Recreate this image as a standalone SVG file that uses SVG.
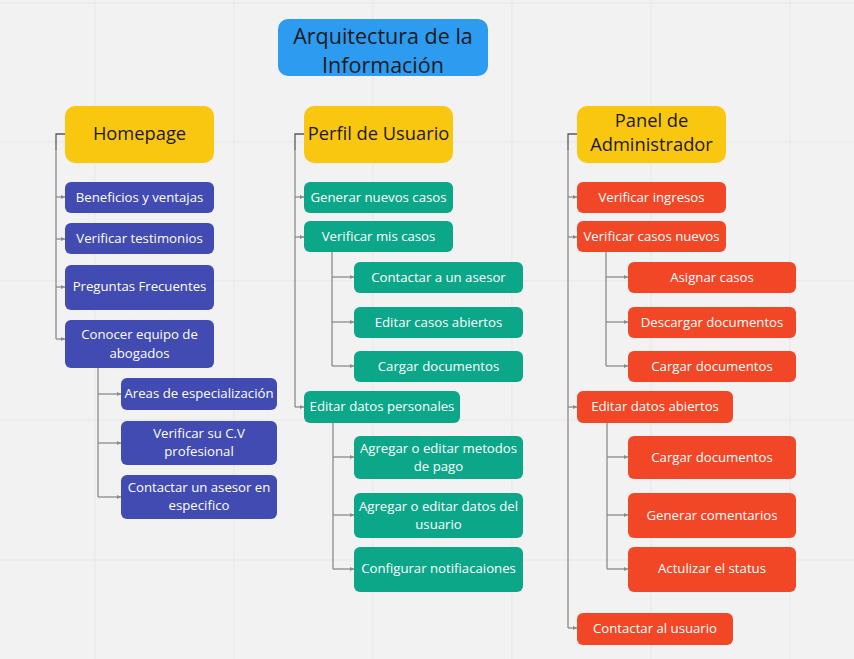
<svg xmlns="http://www.w3.org/2000/svg" width="854" height="659" viewBox="0 0 854 659">
<defs>
<style>
.bg{fill:#f2f2f2}
.grid{stroke:#e7e7e7;stroke-width:1}
.hd{fill:#fac710}
.ttl{fill:#2d9bf0}
.hp{fill:#414bb2}
.pu{fill:#0ca789}
.pa{fill:#f24726}
text{font-family:"Open Sans","Noto Sans","Liberation Sans",sans-serif;text-anchor:middle}
.t0{font-size:21.5px;fill:#1a1a1a}
.t1{font-size:18.3px;fill:#1a1a1a}
.t2{font-size:13.2px;fill:#ffffff}
.cn{fill:none;stroke:#8a8a8a;stroke-width:1.3}
.cnd{fill:none;stroke:#5a5a5a;stroke-width:1.3}
</style>
<marker id="ar" viewBox="0 0 6 6" refX="6" refY="3" markerWidth="4" markerHeight="4" orient="auto" markerUnits="userSpaceOnUse">
<path d="M0,0 L6,3 L0,6 z" fill="#8a8a8a"/>
</marker>
</defs>
<rect class="bg" x="0" y="0" width="854" height="659"/>
<g id="grid">
<line class="grid" x1="95" y1="0" x2="95" y2="659"/>
<line class="grid" x1="234" y1="0" x2="234" y2="659"/>
<line class="grid" x1="373" y1="0" x2="373" y2="659"/>
<line class="grid" x1="512" y1="0" x2="512" y2="659"/>
<line class="grid" x1="651" y1="0" x2="651" y2="659"/>
<line class="grid" x1="790" y1="0" x2="790" y2="659"/>
<line class="grid" x1="0" y1="3" x2="854" y2="3"/>
<line class="grid" x1="0" y1="142" x2="854" y2="142"/>
<line class="grid" x1="0" y1="281" x2="854" y2="281"/>
<line class="grid" x1="0" y1="420" x2="854" y2="420"/>
<line class="grid" x1="0" y1="560" x2="854" y2="560"/>
</g>
<g id="connectors">
<path class="cnd" d="M65,134 H56 V150"/>
<path class="cn" d="M56,150 V339"/>
<path class="cn" d="M56,197 H65" marker-end="url(#ar)"/>
<path class="cn" d="M56,239 H65" marker-end="url(#ar)"/>
<path class="cn" d="M56,287 H65" marker-end="url(#ar)"/>
<path class="cn" d="M56,339 H65" marker-end="url(#ar)"/>
<path class="cn" d="M98,368 V497"/>
<path class="cn" d="M98,394 H121" marker-end="url(#ar)"/>
<path class="cn" d="M98,443 H121" marker-end="url(#ar)"/>
<path class="cn" d="M98,497 H121" marker-end="url(#ar)"/>

<path class="cnd" d="M304,134 H295 V150"/>
<path class="cn" d="M295,150 V407"/>
<path class="cn" d="M295,197 H304" marker-end="url(#ar)"/>
<path class="cn" d="M295,237 H304" marker-end="url(#ar)"/>
<path class="cn" d="M295,407 H304" marker-end="url(#ar)"/>
<path class="cn" d="M332,252 V366"/>
<path class="cn" d="M332,277 H354" marker-end="url(#ar)"/>
<path class="cn" d="M332,322 H354" marker-end="url(#ar)"/>
<path class="cn" d="M332,366 H354" marker-end="url(#ar)"/>
<path class="cn" d="M333,423 V569"/>
<path class="cn" d="M333,457 H354" marker-end="url(#ar)"/>
<path class="cn" d="M333,515 H354" marker-end="url(#ar)"/>
<path class="cn" d="M333,569 H354" marker-end="url(#ar)"/>

<path class="cnd" d="M577,134 H568 V150"/>
<path class="cn" d="M568,150 V628"/>
<path class="cn" d="M568,197 H577" marker-end="url(#ar)"/>
<path class="cn" d="M568,237 H577" marker-end="url(#ar)"/>
<path class="cn" d="M568,407 H577" marker-end="url(#ar)"/>
<path class="cn" d="M568,628 H577" marker-end="url(#ar)"/>
<path class="cn" d="M606,252 V366"/>
<path class="cn" d="M606,277 H628" marker-end="url(#ar)"/>
<path class="cn" d="M606,322 H628" marker-end="url(#ar)"/>
<path class="cn" d="M606,366 H628" marker-end="url(#ar)"/>
<path class="cn" d="M607,423 V569"/>
<path class="cn" d="M607,457 H628" marker-end="url(#ar)"/>
<path class="cn" d="M607,515 H628" marker-end="url(#ar)"/>
<path class="cn" d="M607,569 H628" marker-end="url(#ar)"/>
</g>

<g id="title">
<rect class="ttl" x="278" y="19" width="210" height="57" rx="10"/>
<text class="t0" x="383" y="44">Arquitectura de la</text>
<text class="t0" x="383" y="73">Información</text>
</g>

<g id="homepage"><rect class="hd" x="65" y="106" width="149" height="57" rx="10"/><text class="t1" x="139.5" y="140">Homepage</text></g>
<g id="beneficios"><rect class="hp" x="65" y="182" width="149" height="31" rx="6"/><text class="t2" x="139.5" y="202">Beneficios y ventajas</text></g>
<g id="testimonios"><rect class="hp" x="65" y="223" width="149" height="31" rx="6"/><text class="t2" x="139.5" y="243">Verificar testimonios</text></g>
<g id="preguntas"><rect class="hp" x="65" y="265" width="149" height="45" rx="6"/><text class="t2" x="139.5" y="291">Preguntas Frecuentes</text></g>
<g id="conocer"><rect class="hp" x="65" y="320" width="149" height="48" rx="6"/><text class="t2" x="139.5" y="339">Conocer equipo de</text><text class="t2" x="139.5" y="358">abogados</text></g>
<g id="areas"><rect class="hp" x="121" y="378" width="156" height="32" rx="6"/><text class="t2" x="199" y="398">Areas de especialización</text></g>
<g id="cv"><rect class="hp" x="121" y="421" width="156" height="44" rx="6"/><text class="t2" x="199" y="438">Verificar su C.V</text><text class="t2" x="199" y="456">profesional</text></g>
<g id="contactar-asesor"><rect class="hp" x="121" y="475" width="156" height="44" rx="6"/><text class="t2" x="199" y="492">Contactar un asesor en</text><text class="t2" x="199" y="510">especifico</text></g>

<g id="perfil"><rect class="hd" x="304" y="106" width="149" height="57" rx="10"/><text class="t1" x="378.5" y="140">Perfil de Usuario</text></g>
<g id="generar"><rect class="pu" x="304" y="182" width="149" height="31" rx="6"/><text class="t2" x="378.5" y="202">Generar nuevos casos</text></g>
<g id="verificar-mis"><rect class="pu" x="304" y="221" width="149" height="31" rx="6"/><text class="t2" x="378.5" y="241">Verificar mis casos</text></g>
<g id="contactar-a"><rect class="pu" x="354" y="262" width="169" height="31" rx="6"/><text class="t2" x="438.5" y="282">Contactar a un asesor</text></g>
<g id="editar-casos"><rect class="pu" x="354" y="307" width="169" height="31" rx="6"/><text class="t2" x="438.5" y="327">Editar casos abiertos</text></g>
<g id="cargar-pu"><rect class="pu" x="354" y="351" width="169" height="31" rx="6"/><text class="t2" x="438.5" y="371">Cargar documentos</text></g>
<g id="editar-datos"><rect class="pu" x="304" y="391" width="156" height="32" rx="6"/><text class="t2" x="382" y="411">Editar datos personales</text></g>
<g id="metodos"><rect class="pu" x="354" y="436" width="169" height="43" rx="6"/><text class="t2" x="438.5" y="453">Agregar o editar metodos</text><text class="t2" x="438.5" y="471">de pago</text></g>
<g id="datos-usuario"><rect class="pu" x="354" y="493" width="169" height="45" rx="6"/><text class="t2" x="438.5" y="511">Agregar o editar datos del</text><text class="t2" x="438.5" y="529">usuario</text></g>
<g id="notificaciones"><rect class="pu" x="354" y="547" width="169" height="45" rx="6"/><text class="t2" x="438.5" y="573">Configurar notifiacaiones</text></g>

<g id="panel"><rect class="hd" x="577" y="106" width="149" height="57" rx="10"/><text class="t1" x="651.5" y="127">Panel de</text><text class="t1" x="651.5" y="151">Administrador</text></g>
<g id="ingresos"><rect class="pa" x="577" y="182" width="149" height="31" rx="6"/><text class="t2" x="651.5" y="202">Verificar ingresos</text></g>
<g id="casos-nuevos"><rect class="pa" x="577" y="221" width="149" height="31" rx="6"/><text class="t2" x="651.5" y="241">Verificar casos nuevos</text></g>
<g id="asignar"><rect class="pa" x="628" y="262" width="168" height="31" rx="6"/><text class="t2" x="712" y="282">Asignar casos</text></g>
<g id="descargar"><rect class="pa" x="628" y="307" width="168" height="31" rx="6"/><text class="t2" x="712" y="327">Descargar documentos</text></g>
<g id="cargar-pa"><rect class="pa" x="628" y="351" width="168" height="31" rx="6"/><text class="t2" x="712" y="371">Cargar documentos</text></g>
<g id="editar-abiertos"><rect class="pa" x="577" y="391" width="156" height="32" rx="6"/><text class="t2" x="655" y="411">Editar datos abiertos</text></g>
<g id="cargar-pa2"><rect class="pa" x="628" y="436" width="168" height="43" rx="6"/><text class="t2" x="712" y="462">Cargar documentos</text></g>
<g id="comentarios"><rect class="pa" x="628" y="493" width="168" height="45" rx="6"/><text class="t2" x="712" y="520">Generar comentarios</text></g>
<g id="status"><rect class="pa" x="628" y="547" width="168" height="45" rx="6"/><text class="t2" x="712" y="573">Actulizar el status</text></g>
<g id="contactar-usuario"><rect class="pa" x="577" y="613" width="156" height="32" rx="6"/><text class="t2" x="655" y="633">Contactar al usuario</text></g>
</svg>
